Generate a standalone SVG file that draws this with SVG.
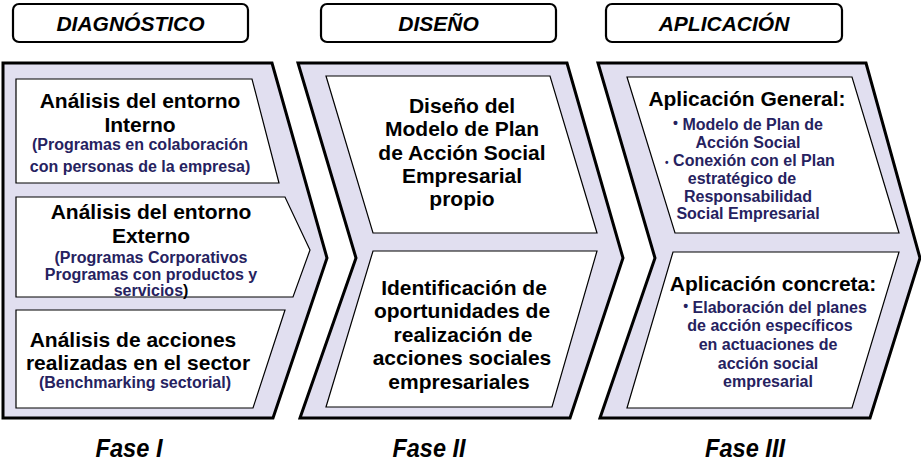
<svg xmlns="http://www.w3.org/2000/svg" width="921" height="463" viewBox="0 0 921 463">
<style>
.chev{fill:#e1dff0;stroke:#000;stroke-width:3;stroke-linejoin:miter}
.box{fill:#fff;stroke:#000;stroke-width:1.2}
.hdr{fill:#fff;stroke:#000;stroke-width:2.2}
.ht{font-family:"Liberation Sans",Arial,sans-serif;font-weight:bold;font-style:italic;font-size:21px;fill:#000;text-anchor:middle}
.ft{font-family:"Liberation Sans",Arial,sans-serif;font-weight:bold;font-style:italic;font-size:25px;fill:#000;text-anchor:middle}
.t{font-family:"Liberation Sans",Arial,sans-serif;font-weight:bold;font-size:21px;fill:#000;text-anchor:middle}
.b{font-family:"Liberation Sans",Arial,sans-serif;font-weight:bold;font-size:16px;fill:#26225f;text-anchor:middle}
</style>
<rect width="921" height="463" fill="#fff"/>

<g id="header-diagnostico">
<rect class="hdr" x="13" y="4" width="235" height="38" rx="6"/>
<text class="ht" x="130.5" y="31">DIAGNÓSTICO</text>
</g>
<g id="header-diseno">
<rect class="hdr" x="321" y="4" width="235" height="38" rx="6"/>
<text class="ht" x="438.5" y="31">DISEÑO</text>
</g>
<g id="header-aplicacion">
<rect class="hdr" x="606" y="4" width="236" height="38" rx="6"/>
<text class="ht" x="724" y="31">APLICACIÓN</text>
</g>

<g id="phase1">
<polygon class="chev" points="3,63 272,63 327,258 273,418 3,418"/>
</g>
<g id="phase2">
<polygon class="chev" points="298,63 567,63 623,258 570,418 300,418 356,258"/>
</g>
<g id="phase3">
<polygon class="chev" points="598,63 866,63 920,258 870,418 600,418 655,258"/>
</g>

<g id="node-entorno-interno">
<polygon class="box" points="16,79 252,79 279,183 16,183"/>
<text class="t" x="140" y="108">Análisis del entorno</text>
<text class="t" x="140" y="132">Interno</text>
<text class="b" x="140" y="150">(Programas en colaboración</text>
<text class="b" x="140" y="172">con personas de la empresa)</text>
</g>

<g id="node-entorno-externo">
<polygon class="box" points="16,197 285,197 310,250 293,297 16,297"/>
<text class="t" x="151" y="219">Análisis del entorno</text>
<text class="t" x="151" y="243">Externo</text>
<text class="b" x="151" y="263">(Programas Corporativos</text>
<text class="b" x="151" y="280">Programas con productos y</text>
<text class="b" x="151" y="296">servicios<tspan fill="#000">)</tspan></text>
</g>

<g id="node-acciones-sector">
<polygon class="box" points="16,310 285,310 253,408 16,408"/>
<text class="t" x="133" y="347">Análisis de acciones</text>
<text class="t" x="138" y="370">realizadas en el sector</text>
<text class="b" x="135" y="388">(Benchmarking sectorial)</text>
</g>

<g id="node-diseno-modelo">
<polygon class="box" points="326,76 550,76 597,233 373,233"/>
<text class="t" x="462" y="113">Diseño del</text>
<text class="t" x="462" y="136">Modelo de Plan</text>
<text class="t" x="462" y="160">de Acción Social</text>
<text class="t" x="462" y="183">Empresarial</text>
<text class="t" x="462" y="206">propio</text>
</g>

<g id="node-identificacion">
<polygon class="box" points="373,251 597,251 552,407 326,407"/>
<text class="t" x="464" y="295">Identificación de</text>
<text class="t" x="462" y="318">oportunidades de</text>
<text class="t" x="463" y="342">realización de</text>
<text class="t" x="462" y="365">acciones sociales</text>
<text class="t" x="459" y="389">empresariales</text>
</g>

<g id="node-aplicacion-general">
<polygon class="box" points="627,77 852,77 899,233 675,233"/>
<text class="t" x="747" y="106">Aplicación General:</text>
<text class="b" x="748" y="130"><tspan font-size="14" dy="-2">•</tspan><tspan dy="2"> Modelo de Plan de</tspan></text>
<text class="b" x="748" y="148">Acción Social</text>
<text class="b" x="750" y="166"><tspan font-size="10">•</tspan> Conexión con el Plan</text>
<text class="b" x="742" y="184">estratégico de</text>
<text class="b" x="748" y="202">Responsabilidad</text>
<text class="b" x="748" y="219">Social Empresarial</text>
</g>

<g id="node-aplicacion-concreta">
<polygon class="box" points="673,252 899,252 852,408 627,408"/>
<text class="t" x="773" y="291">Aplicación concreta:</text>
<text class="b" x="775" y="313"><tspan font-size="14" dy="-2">•</tspan><tspan dy="2"> Elaboración del planes</tspan></text>
<text class="b" x="770" y="331">de acción específicos</text>
<text class="b" x="768" y="350">en actuaciones de</text>
<text class="b" x="768" y="369">acción social</text>
<text class="b" x="768" y="387">empresarial</text>
</g>

<g id="phase-labels">
<text class="ft" x="129" y="457" textLength="67" lengthAdjust="spacingAndGlyphs">Fase I</text>
<text class="ft" x="429" y="457" textLength="73" lengthAdjust="spacingAndGlyphs">Fase II</text>
<text class="ft" x="745" y="457" textLength="80" lengthAdjust="spacingAndGlyphs">Fase III</text>
</g>
</svg>
